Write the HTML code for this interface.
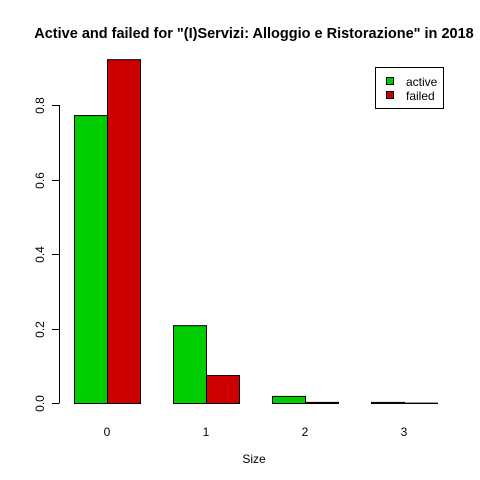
<!DOCTYPE html>
<html><head><meta charset="utf-8"><style>body{margin:0;background:#fff}svg{display:block;font-family:"Liberation Sans",Arial,sans-serif}</style></head>
<body>
<svg id="c" width="480" height="480">
<text x="254" y="38" text-anchor="middle" font-size="14.5" font-weight="bold">Active and failed for "(I)Servizi: Alloggio e Ristorazione" in 2018</text>
<text x="254" y="463" text-anchor="middle" font-size="12">Size</text>
<g id="bars"></g><g id="yaxis"></g><g id="xlabels"></g>
<g>
<rect x="375.5" y="67.5" width="68" height="41" fill="#fff" stroke="#000"/>
<rect x="386.5" y="77.5" width="7" height="7" fill="#00CD00" stroke="#000"/>
<text x="406" y="86" font-size="12">active</text>
<rect x="386.5" y="91.5" width="7" height="7" fill="#CD0000" stroke="#000"/>
<text x="406" y="100" font-size="12">failed</text>
</g>
</svg>
<script>
const categories = ["0","1","2","3"];
const activeValues = [0.773, 0.209, 0.019, 0.003];
const failedValues = [0.923, 0.075, 0.003, 0.001];
const yTicks = [0, 0.2, 0.4, 0.6, 0.8];
const yTickLabels = ["0.0","0.2","0.4","0.6","0.8"];
const NS="http://www.w3.org/2000/svg";
const y0=403, pxPerUnit=372.5;
function yScale(v){return y0-v*pxPerUnit;}
function xGroup(i){return 74+i*99;}
const bars=document.getElementById('bars');
function mk(tag,attrs,parent){const e=document.createElementNS(NS,tag);for(const k in attrs)e.setAttribute(k,attrs[k]);parent.appendChild(e);return e;}
categories.forEach((c,i)=>{
  const x=xGroup(i);
  const a=mk('rect',{x:x+0.5,y:yScale(activeValues[i])+0.5,width:33,height:Math.max(0,y0-yScale(activeValues[i])),fill:'#00CD00',stroke:'#000'},bars);
  
  
  const f=mk('rect',{x:x+33.5,y:yScale(failedValues[i])+0.5,width:33,height:Math.max(0,y0-yScale(failedValues[i])),fill:'#CD0000',stroke:'#000'},bars);
  
  
  const t=mk('text',{x:x+33,y:436,'text-anchor':'middle','font-size':12},document.getElementById('xlabels'));
  t.textContent=c;
  
  
});
const ya=document.getElementById('yaxis');
const axl=mk('line',{x1:59.5,x2:59.5,y1:yScale(yTicks[0]),y2:yScale(yTicks[yTicks.length-1]),stroke:'#000'},ya);


yTicks.forEach((v,i)=>{
  const y=Math.round(yScale(v))+0.5;
  mk('line',{x1:52,x2:59.5,y1:y,y2:y,stroke:'#000'},ya);
  const t=mk('text',{x:0,y:0,'text-anchor':'middle','font-size':12,transform:`translate(44,${y}) rotate(-90)`},ya);
  t.textContent=yTickLabels[i];
  
  
});
</script>
</body></html>
